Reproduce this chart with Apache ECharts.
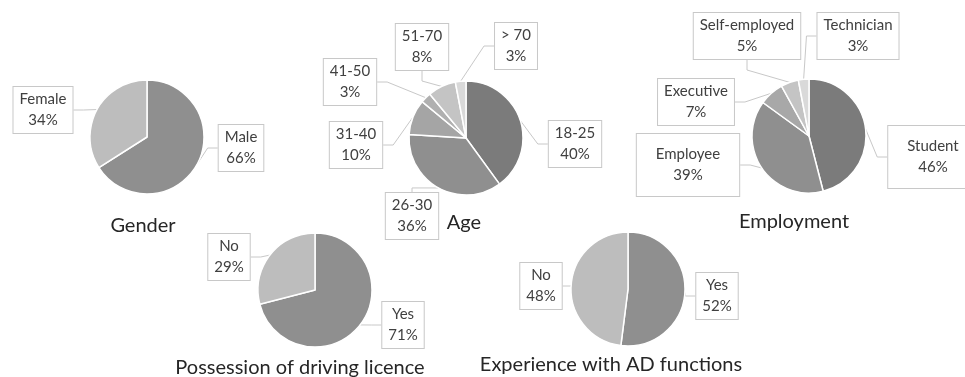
<!DOCTYPE html>
<html>
<head>
<meta charset="utf-8">
<script src="https://cdn.jsdelivr.net/npm/echarts@6/dist/echarts.min.js"></script>
<style>
  html, body { margin: 0; padding: 0; background: #fff; }
  #chart { width: 965px; height: 377px; }
</style>
</head>
<body>
<div id="chart"></div>
<script>
// 数据（百分比）
const genderNames = ['Male', 'Female'];
const genderValues = [66, 34];
const ageNames = ['18-25', '26-30', '31-40', '41-50', '51-70', '> 70'];
const ageValues = [40, 36, 10, 3, 8, 3];
const employmentNames = ['Student', 'Employee', 'Executive', 'Self-employed', 'Technician'];
const employmentValues = [46, 39, 7, 5, 3];
const licenceNames = ['Yes', 'No'];
const licenceValues = [71, 29];
const adNames = ['Yes', 'No'];
const adValues = [52, 48];
const chartTitles = ['Gender', 'Age', 'Employment', 'Possession of driving licence', 'Experience with AD functions'];

// 布局（圆心、标题位置、标签位置、颜色）
const pies = [
  { names: genderNames, values: genderValues, center: [147, 137], title: [143, 226],
    colors: ['#8f8f8f', '#bdbdbd'],
    labelAt: [[241, 148], [43, 110]] },
  { names: ageNames, values: ageValues, center: [466, 138], title: [464, 223],
    colors: ['#7b7b7b', '#8f8f8f', '#a5a5a5', '#b0b0b0', '#c4c4c4', '#d9d9d9'],
    labelAt: [[575, 144], [412, 216], [356, 145], [350, 82], [422, 47], [516, 46]] },
  { names: employmentNames, values: employmentValues, center: [809, 136], title: [794, 222],
    colors: ['#7b7b7b', '#8f8f8f', '#a8a8a8', '#c4c4c4', '#d9d9d9'],
    labelAt: [[933, 157], [688, 165], [696, 102], [747, 36], [858, 36]],
    bigPad: [0, 1] },
  { names: licenceNames, values: licenceValues, center: [315, 290], title: [300, 368],
    colors: ['#8f8f8f', '#bdbdbd'],
    labelAt: [[403, 325], [229, 257]] },
  { names: adNames, values: adValues, center: [628, 289], title: [611, 365],
    colors: ['#8f8f8f', '#bdbdbd'],
    labelAt: [[717, 296], [541, 286]] }
];

const myChart = echarts.init(document.getElementById('chart'));

const series = pies.map((p, si) => ({
  type: 'pie',
  radius: 57,
  center: p.center,
  startAngle: 90,
  clockwise: true,
  avoidLabelOverlap: false,
  animation: false,
  itemStyle: { borderColor: '#fff', borderWidth: 1.5 },
  data: p.names.map((n, i) => ({
    name: n,
    value: p.values[i],
    itemStyle: { color: p.colors[i] },
    label: (p.bigPad && p.bigPad.indexOf(i) >= 0) ? { padding: [10, 19] } : {}
  })),
  label: {
    show: true,
    position: 'outside',
    formatter: '{b}\n{c}%',
    fontFamily: 'Lato',
    fontSize: 15,
    lineHeight: 21,
    color: '#404040',
    backgroundColor: '#fff',
    borderColor: '#c8c8c8',
    borderWidth: 1,
    padding: [2, 6],
    align: 'center'
  },
  labelLine: { show: true, length: 10, length2: 10, lineStyle: { color: '#c8c8c8', width: 1 } },
  labelLayout: params => {
    const pos = pies[si].labelAt[params.dataIndex];
    return { x: pos[0], y: pos[1], align: 'center', verticalAlign: 'middle' };
  },
  emphasis: { disabled: true }
}));

const graphic = pies.map((p, i) => ({
  type: 'text',
  x: p.title[0],
  y: p.title[1],
  style: {
    text: chartTitles[i],
    align: 'center',
    verticalAlign: 'middle',
    font: '20px Lato',
    fill: '#262626'
  }
}));

myChart.setOption({
  backgroundColor: '#fff',
  series: series,
  graphic: graphic
});
window.addEventListener('resize', () => myChart.resize());
</script>
</body>
</html>
